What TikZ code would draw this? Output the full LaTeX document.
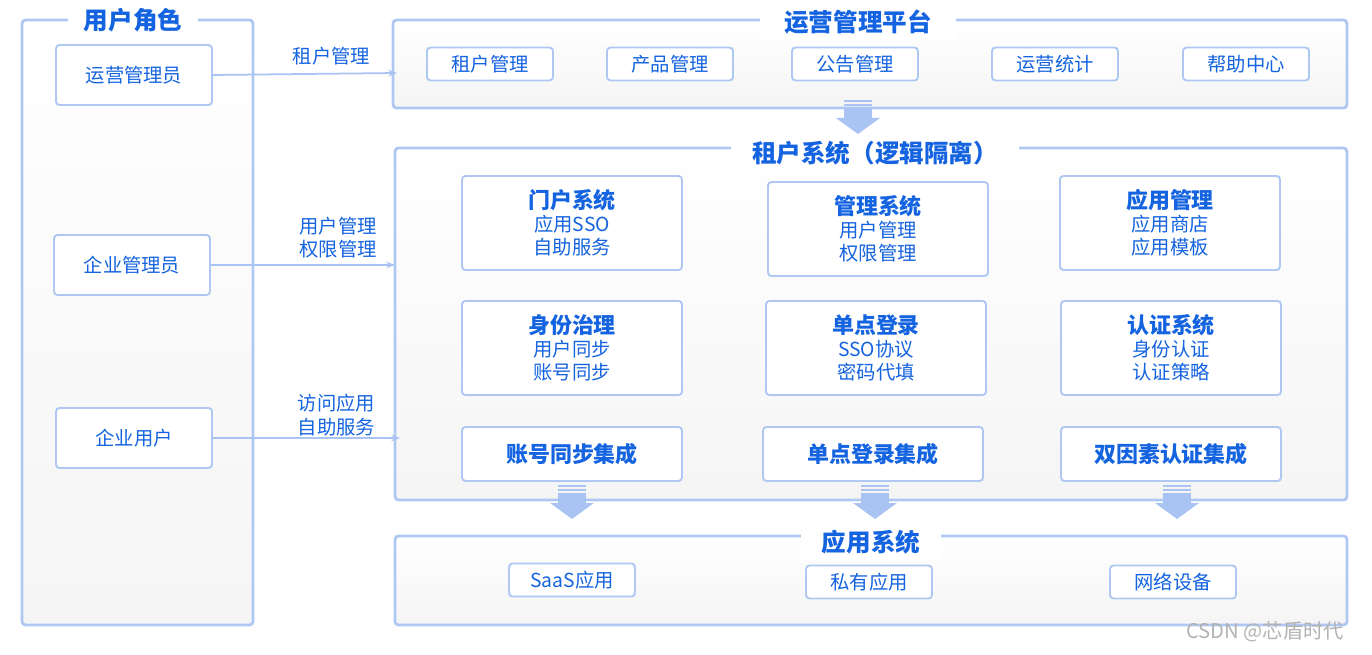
\documentclass[tikz,border=0pt]{standalone}
\usepackage{fontspec}
\setmainfont{Noto Sans CJK SC}
\usetikzlibrary{arrows.meta}
\definecolor{tb}{HTML}{1463E0}
\definecolor{bd}{HTML}{AFC8F3}
\definecolor{ar}{HTML}{A9C3F2}
\tikzset{
 panel/.style={draw=bd,line width=1.6pt,rounded corners=2pt,top color=white,bottom color=black!4},
 ptitle/.style={fill=white,text=tb,font=\bfseries\fontsize{14}{16}\selectfont,inner xsep=6pt},
 box/.style={draw=bd,line width=1.1pt,rounded corners=2pt,fill=white},
 txt/.style={text=tb,font=\fontsize{11}{13.2}\selectfont,align=center},
 conn/.style={draw=ar,line width=1pt,-{Stealth[length=5pt]}},
}
\newcommand{\hd}[1]{{\bfseries\fontsize{12.5}{13.5}\selectfont #1}}
\newcommand{\downarr}[2]{%
 \fill[ar] (#1-14,#2) rectangle (#1+14,#2+2);
 \fill[ar] (#1-14,#2+4) rectangle (#1+14,#2+6);
 \fill[ar] (#1-14,#2+8) rectangle (#1+14,#2+18);
 \fill[ar] (#1-22,#2+18) -- (#1+22,#2+18) -- (#1,#2+34) -- cycle;}
\begin{document}
\begin{tikzpicture}[x=0.02cm,y=-0.02cm]
\useasboundingbox (0,0) rectangle (1372,655);
% left panel
\draw[panel] (22,20) rectangle (253,625);
\node[ptitle,inner xsep=9pt] (t1) at (133,20) {用户角色};
\node[box,minimum width=156*0.02cm,minimum height=60*0.02cm,txt] (r1) at (134,75) {运营管理员};
\node[box,minimum width=156*0.02cm,minimum height=60*0.02cm,txt] (r2) at (132,265) {企业管理员};
\node[box,minimum width=156*0.02cm,minimum height=60*0.02cm,txt] (r3) at (134,438) {企业用户};
% top panel
\draw[panel] (393,20) rectangle (1347,108);
\node[ptitle,inner xsep=14pt] (t2) at (858,22) {运营管理平台};
\foreach \n/\x/\t in {a/490/租户管理,b/670/产品管理,c/855/公告管理,d/1055/运营统计,e/1246/帮助中心}
 \node[box,minimum width=126*0.02cm,minimum height=33*0.02cm,txt] (p\n) at (\x,64) {\t};
% middle panel
\draw[panel] (395,148) rectangle (1347,500);
\node[ptitle,inner xsep=12pt] (t3) at (875,153) {租户系统（逻辑隔离）};
\tikzset{big/.style={box,minimum width=220*0.02cm,minimum height=94*0.02cm,txt}}
\node[big] (m1) at (572,223) {\hd{门户系统}\\应用SSO\\自助服务};
\node[big] (m2) at (878,229) {\hd{管理系统}\\用户管理\\权限管理};
\node[big] (m3) at (1170,223) {\hd{应用管理}\\应用商店\\应用模板};
\node[big] (m4) at (572,348) {\hd{身份治理}\\用户同步\\账号同步};
\node[big] (m5) at (876,348) {\hd{单点登录}\\SSO协议\\密码代填};
\node[big] (m6) at (1171,348) {\hd{认证系统}\\身份认证\\认证策略};
\tikzset{mid/.style={box,minimum width=220*0.02cm,minimum height=54*0.02cm,txt,font=\bfseries\fontsize{12.5}{14}\selectfont}}
\node[mid] (i1) at (572,454) {账号同步集成};
\node[mid] (i2) at (873,454) {单点登录集成};
\node[mid] (i3) at (1171,454) {双因素认证集成};
% bottom panel
\draw[panel] (395,536) rectangle (1347,625);
\node[ptitle,inner xsep=12pt] (t4) at (871,542) {应用系统};
\node[box,minimum width=126*0.02cm,minimum height=33*0.02cm,txt] (s1) at (572,580) {SaaS应用};
\node[box,minimum width=126*0.02cm,minimum height=33*0.02cm,txt] (s2) at (869,582) {私有应用};
\node[box,minimum width=126*0.02cm,minimum height=33*0.02cm,txt] (s3) at (1173,582) {网络设备};
% down arrows
\downarr{858}{100}
\downarr{572}{485}
\downarr{875}{485}
\downarr{1177}{485}
% connectors
\coordinate (e1) at (397,73);
\coordinate (e2) at (395,265);
\coordinate (e3) at (400,438);
\draw[conn] (r1.east) -- node[txt,above=1pt,xshift=15] {租户管理} (e1);
\draw[conn] (r2.east) -- node[txt,above=0pt,xshift=20] {用户管理\\权限管理} (e2);
\draw[conn] (r3.east) -- node[txt,yshift=13,xshift=17] {访问应用\\自助服务} (e3);
\node[text=black!30,font=\fontsize{11.5}{12}\selectfont] (wm) at (1265,632) {CSDN @芯盾时代};
\end{tikzpicture}
\end{document}
